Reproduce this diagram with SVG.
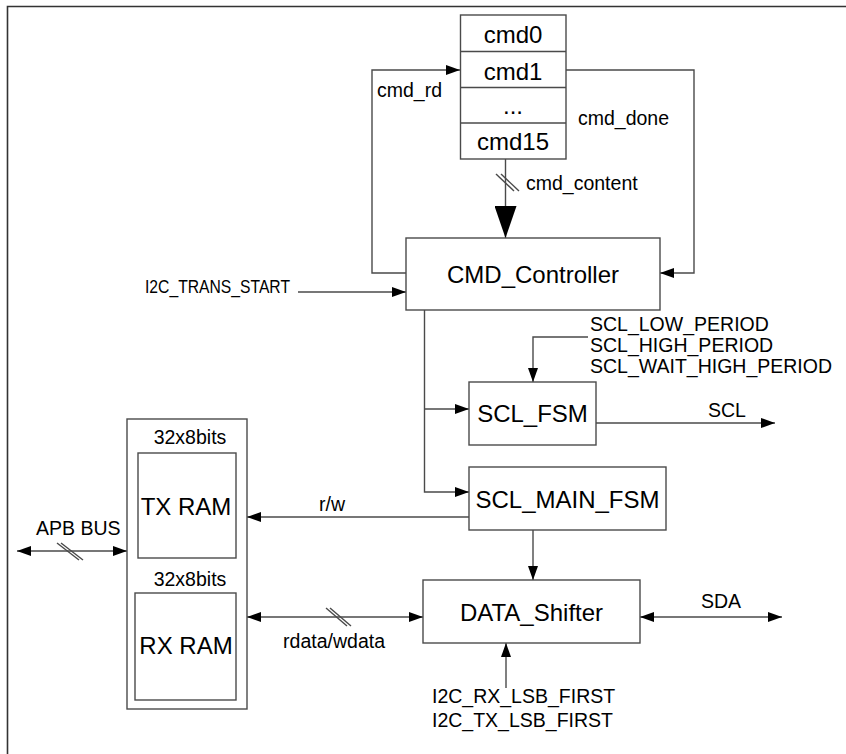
<svg xmlns="http://www.w3.org/2000/svg" width="846" height="754" viewBox="0 0 846 754">
<defs>
<marker id="ah" viewBox="0 0 14 10" refX="14" refY="5" markerWidth="14" markerHeight="10" markerUnits="userSpaceOnUse" orient="auto-start-reverse">
<path d="M0,0 L14,5 L0,10 Z" fill="#000"/>
</marker>
<marker id="big" viewBox="0 0 32 22" refX="32" refY="11" markerWidth="32" markerHeight="22" markerUnits="userSpaceOnUse" orient="auto">
<path d="M0,0 L32,11 L0,22 Z" fill="#000"/>
</marker>
<style>
.box{fill:#fff;stroke:#4a4a4a;stroke-width:1.4}
.ln{fill:none;stroke:#4a4a4a;stroke-width:1.4}
.t{font-family:"Liberation Sans",Arial,sans-serif;fill:#000}
.big{font-size:24px;text-anchor:middle}
.sm{font-size:19.5px}
</style>
</defs>
<rect width="846" height="754" fill="#fff"/>
<g id="frame">
<path d="M7.5,754 V6.5 H846" fill="none" style="stroke:#333;stroke-width:1.6"/>
</g>
<g id="connectors">
<path class="ln" d="M406,273 H372 V70 H460" marker-end="url(#ah)"/>
<path class="ln" d="M566,70 H694 V273 H660" marker-end="url(#ah)"/>
<path class="ln" d="M505.5,159 V238" marker-end="url(#big)"/>
<line class="ln" x1="496" y1="174" x2="514" y2="191"/>
<line class="ln" x1="501" y1="174" x2="519" y2="191"/>
<path class="ln" d="M298,292 H406" marker-end="url(#ah)"/>
<path class="ln" d="M424.5,310 V492 H469" marker-end="url(#ah)"/>
<path class="ln" d="M424.5,409 H469" marker-end="url(#ah)"/>
<path class="ln" d="M588,337 H533 V382" marker-end="url(#ah)"/>
<path class="ln" d="M596,423 H775" marker-end="url(#ah)"/>
<path class="ln" d="M469,517 H247" marker-end="url(#ah)"/>
<path class="ln" d="M533,530 V580" marker-end="url(#ah)"/>
<path class="ln" d="M247,617 H423" marker-start="url(#ah)" marker-end="url(#ah)"/>
<line class="ln" x1="326" y1="608" x2="347" y2="626"/>
<line class="ln" x1="330" y1="608" x2="351" y2="626"/>
<path class="ln" d="M640,617 H782" marker-start="url(#ah)" marker-end="url(#ah)"/>
<path class="ln" d="M506,688 V643" marker-end="url(#ah)"/>
<path class="ln" d="M17,551 H127" marker-start="url(#ah)" marker-end="url(#ah)"/>
<line class="ln" x1="57" y1="543" x2="79" y2="560"/>
<line class="ln" x1="61" y1="543" x2="83" y2="560"/>
</g>
<g id="cmd_regs">
<rect class="box" x="460.5" y="15" width="105.5" height="144"/>
<line class="ln" x1="460.5" y1="51.5" x2="566" y2="51.5"/>
<line class="ln" x1="460.5" y1="87.5" x2="566" y2="87.5"/>
<line class="ln" x1="460.5" y1="123" x2="566" y2="123"/>
<text class="t big" x="513" y="43">cmd0</text>
<text class="t big" x="513" y="80">cmd1</text>
<text class="t big" x="513" y="114">...</text>
<text class="t big" x="513" y="150">cmd15</text>
</g>
<g id="cmd_controller">
<rect class="box" x="406" y="238" width="254" height="72"/>
<text class="t big" x="533" y="283">CMD_Controller</text>
</g>
<g id="scl_fsm">
<rect class="box" x="469" y="382" width="127" height="63"/>
<text class="t big" x="532.5" y="422">SCL_FSM</text>
</g>
<g id="scl_main_fsm">
<rect class="box" x="469" y="467" width="197" height="63"/>
<text class="t big" x="567.5" y="508">SCL_MAIN_FSM</text>
</g>
<g id="data_shifter">
<rect class="box" x="423" y="580" width="217" height="63"/>
<text class="t big" x="531.5" y="621">DATA_Shifter</text>
</g>
<g id="ram">
<rect class="box" x="127" y="419" width="120" height="290"/>
<text class="t sm" x="190" y="444" text-anchor="middle">32x8bits</text>
<rect class="box" x="138" y="453" width="98" height="105"/>
<text class="t big" x="186" y="515">TX RAM</text>
<text class="t sm" x="190" y="586" text-anchor="middle">32x8bits</text>
<rect class="box" x="135" y="593" width="101" height="107"/>
<text class="t big" x="186" y="654">RX RAM</text>
</g>
<g id="labels">
<text class="t sm" x="377" y="97">cmd_rd</text>
<text class="t sm" x="578" y="125">cmd_done</text>
<text class="t sm" x="526" y="190">cmd_content</text>
<text class="t" x="145" y="293" font-size="19" textLength="145" lengthAdjust="spacingAndGlyphs">I2C_TRANS_START</text>
<text class="t sm" x="590" y="331">SCL_LOW_PERIOD</text>
<text class="t sm" x="590" y="352">SCL_HIGH_PERIOD</text>
<text class="t sm" x="590" y="373">SCL_WAIT_HIGH_PERIOD</text>
<text class="t sm" x="708" y="417">SCL</text>
<text class="t sm" x="319" y="511">r/w</text>
<text class="t sm" x="36" y="535">APB BUS</text>
<text class="t sm" x="701" y="608">SDA</text>
<text class="t sm" x="385" y="648" text-anchor="end">rdata/wdata</text>
<text class="t sm" x="432" y="703">I2C_RX_LSB_FIRST</text>
<text class="t sm" x="432" y="727">I2C_TX_LSB_FIRST</text>
</g>
</svg>
